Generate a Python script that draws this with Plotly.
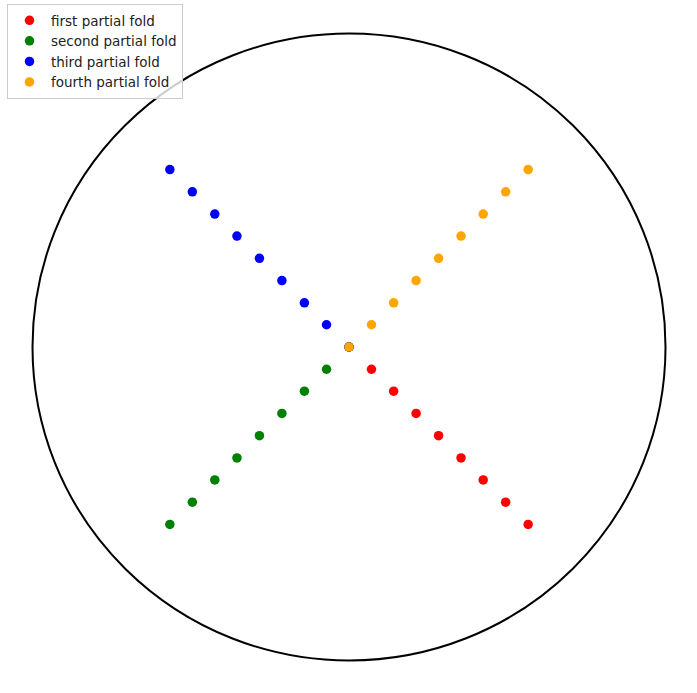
import plotly.graph_objects as go

# data (unit circle, points along diagonals)
first_x = [0.0, 0.071, 0.141, 0.212, 0.283, 0.354, 0.424, 0.495, 0.566]
first_y = [0.0, -0.071, -0.141, -0.212, -0.283, -0.354, -0.424, -0.495, -0.566]
second_x = [0.0, -0.071, -0.141, -0.212, -0.283, -0.354, -0.424, -0.495, -0.566]
second_y = [0.0, -0.071, -0.141, -0.212, -0.283, -0.354, -0.424, -0.495, -0.566]
third_x = [0.0, -0.071, -0.141, -0.212, -0.283, -0.354, -0.424, -0.495, -0.566]
third_y = [0.0, 0.071, 0.141, 0.212, 0.283, 0.354, 0.424, 0.495, 0.566]
fourth_x = [0.0, 0.071, 0.141, 0.212, 0.283, 0.354, 0.424, 0.495, 0.566]
fourth_y = [0.0, 0.071, 0.141, 0.212, 0.283, 0.354, 0.424, 0.495, 0.566]

series = [
    ("first partial fold", first_x, first_y, "red"),
    ("second partial fold", second_x, second_y, "green"),
    ("third partial fold", third_x, third_y, "blue"),
    ("fourth partial fold", fourth_x, fourth_y, "orange"),
]

fig = go.Figure()
for name, xs, ys, color in series:
    fig.add_trace(go.Scatter(
        x=xs, y=ys, mode="markers", name=name,
        marker=dict(color=color, size=9.5, line=dict(width=0)),
    ))

fig.add_shape(type="circle", xref="x", yref="y", x0=-1, y0=-1, x1=1, y1=1,
              line=dict(color="black", width=2), layer="below")

fig.update_layout(
    width=697, height=693,
    margin=dict(l=0, r=0, t=0, b=0),
    paper_bgcolor="white", plot_bgcolor="white",
    font=dict(family="DejaVu Sans", size=14, color="black"),
    xaxis=dict(range=[-1.1027, 1.0995], visible=False),
    yaxis=dict(range=[-1.1037, 1.1069], visible=False),
    legend=dict(x=7/697, y=1-4/693, xanchor="left", yanchor="top",
                bgcolor="rgba(255,255,255,0.8)", bordercolor="#cccccc", borderwidth=1,
                font=dict(size=13.5, color="#222222"), tracegroupgap=0, itemwidth=33),
    showlegend=True,
)

fig.write_html("out.html")
